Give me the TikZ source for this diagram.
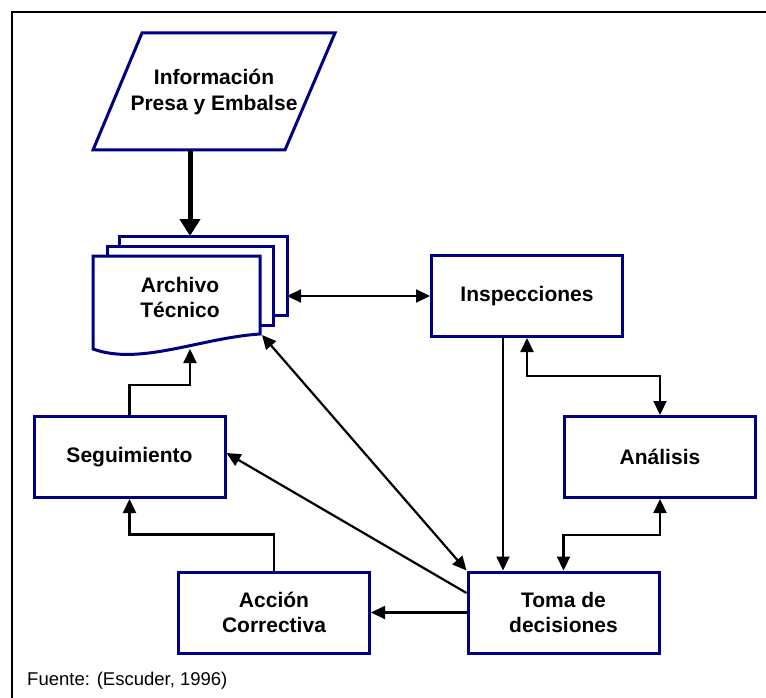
\documentclass[tikz,border=0pt]{standalone}
\usepackage{fontspec}
\setmainfont{Liberation Sans}
\usetikzlibrary{positioning, arrows.meta, calc}
\definecolor{boxblue}{RGB}{0,0,128}

\begin{document}
\begin{tikzpicture}
        [
            x=1pt, y=-1pt,
            box/.style={rectangle, draw=boxblue, line width=3pt, fill=white,
                        minimum width=191pt, minimum height=81pt, align=center,
                        font=\fontsize{21}{25}\selectfont\bfseries},
            sheet/.style={draw=boxblue, line width=3pt, fill=white},
            link/.style={line width=2.2pt, -{Triangle[length=14pt,width=13pt]}},
            both/.style={line width=2.2pt, {Triangle[length=14pt,width=13pt]}-{Triangle[length=14pt,width=13pt]}}
        ]
        \useasboundingbox (0,0) rectangle (766,698);
        \draw [line width=2.2pt] (12,698) -- (12,12) -- (766,12);
        % entrada de datos
        \draw [sheet] (142,33) -- (335,33) -- (285,150) -- (93,150) -- cycle;
        \node (info) [align=center, font=\fontsize{21}{26}\selectfont\bfseries]
            at (214,92) {Información\\Presa y Embalse};
        % archivo (tres hojas)
        \draw [sheet] (119,236) rectangle (287,315);
        \draw [sheet] (107,246) rectangle (273,325);
        \draw [sheet] (93,256) -- (260,256) -- (260,334)
            .. controls (200,338) and (140,366) .. (93,349) -- cycle;
        \node (arch) [align=center, font=\fontsize{21}{25}\selectfont\bfseries]
            at (180,297) {Archivo\\Técnico};
        \coordinate (infobot) at (190,150);
        \coordinate (archtop) at (190,236);
        \coordinate (archright) at (287,296);
        \coordinate (archcorner) at (262,335);
        \coordinate (archbot) at (190,349);
        % cajas
        \node (insp) [box] at (527,296) {Inspecciones};
        \node (anal) [box] at (660,457) {Análisis};
        \node (seg) [box] at (129.5,457) {Seguimiento};
        \node (toma) [box] at (563.5,612.5) {Toma de\\decisiones};
        \node (acc) [box] at (274,612.5) {Acción\\Correctiva};
        \node (src) [anchor=west, inner sep=0pt, font=\fontsize{18.5}{22}\selectfont]
            at (27,681) {Fuente: (Escuder, 1996)};
        % conectores
        \draw [line width=5pt, -{Triangle[length=17pt,width=20pt]}] (infobot) -- (archtop);
        \draw [both] (archright) -- (insp.west);
        \draw [link] ([xshift=-24pt]insp.south) -- ([xshift=-24pt]insp.south |- toma.north);
        \draw [both] (insp.south) -- ++(0,38) -| (anal.north);
        \draw [both] (anal.south) -- ++(0,36) -| (toma.north);
        \draw [link] (toma.west) -- (acc.east);
        \draw [link] ([yshift=19.5pt]toma.west) -- ([yshift=4pt]seg.east);
        \draw [both] (archcorner) -- (toma.north west);
        \draw [link] (acc.north) -- ++(0,-36) -| (seg.south);
        \draw [link] (seg.north) -- ++(0,-30) -| (archbot);
    \end{tikzpicture}
\end{document}
